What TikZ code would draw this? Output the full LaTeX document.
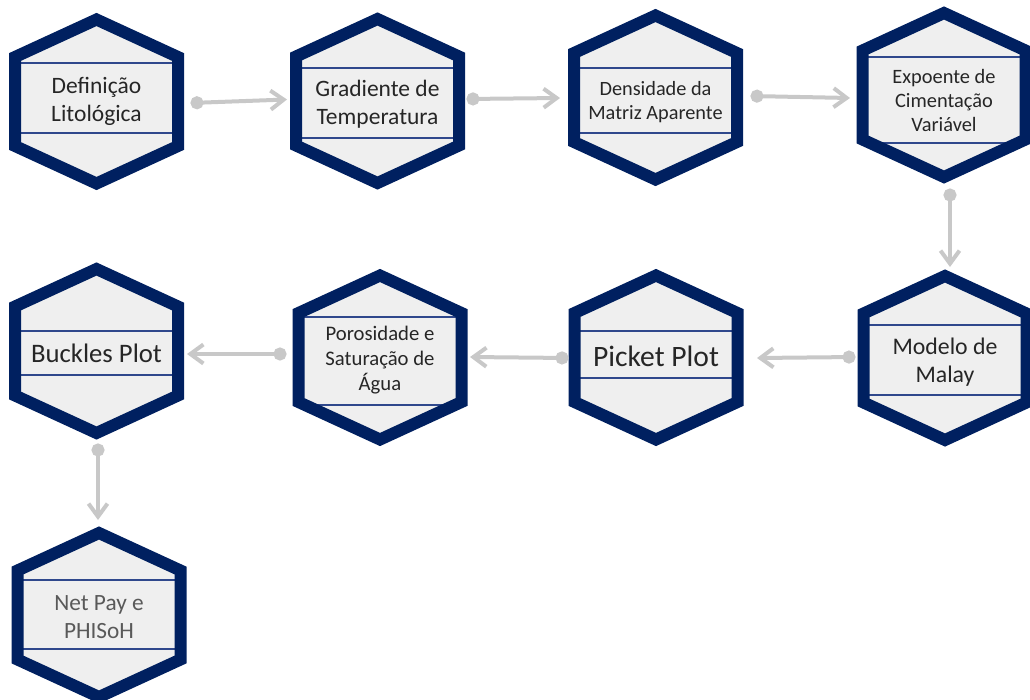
\documentclass[tikz,border=0pt]{standalone}
\usepackage{fontspec}
\setmainfont{Carlito}
\usetikzlibrary{arrows.meta,calc}

\definecolor{navy}{RGB}{0,32,96}
\definecolor{rulebl}{RGB}{47,72,140}
\definecolor{hexbg}{RGB}{239,239,239}
\definecolor{linkgray}{RGB}{200,200,200}
\definecolor{inkdark}{RGB}{38,38,38}
\definecolor{inkmid}{RGB}{89,89,89}

% outline of one step (path centre line of the thick border)
\newcommand\hexpath{(0,-82) -- (81.5,-44.5) -- (81.5,44.5) -- (0,82) -- (-81.5,44.5) -- (-81.5,-44.5) -- cycle}

\tikzset{
  hexanchor/.style={inner sep=0pt, minimum width=175pt, minimum height=177pt},
  hexfill/.style={fill=hexbg},
  hexborder/.style={draw=navy, line width=12pt, line join=miter},
  hexrule/.style={draw=rulebl, line width=1.3pt},
  hextext/.style={align=center, inner sep=0pt, text=inkdark},
  link/.style={draw=linkgray, line width=4pt,
    {Circle[length=13pt]}-{Straight Barb[length=13pt,width=19pt,line width=4pt]}}
}

% #1 name, #2 cx, #3 cy, #4 upper rule, #5 lower rule, #6 text y, #7 font size, #8 text
\newcommand\hexstep[8]{%
  \node[hexanchor] (#1) at (#2,#3) {};
  \begin{scope}[shift={(#1.center)}]
    \fill[hexfill] \hexpath;
    \begin{scope}
      \clip \hexpath;
      \draw[hexrule] (-95,#4) -- (95,#4);
      \draw[hexrule] (-95,#5) -- (95,#5);
    \end{scope}
    \draw[hexborder] \hexpath;
  \end{scope}
  \node[hextext, font=\fontsize{#7}{\fpeval{1.2*#7}}\selectfont] (#1-t) at (#2,#6) {#8};
}

\begin{document}
\begin{tikzpicture}[x=1pt, y=-1pt]
  \useasboundingbox (0,0) rectangle (1030,699);

  % first row
  \hexstep{h1}{96.5}{101.5}{-38.5}{31.5}{101.5}{23.5}{Definição\\Litológica}
  \hexstep{h2}{377.5}{101}{-33}{37}{104}{23.5}{Gradiente de\\Temperatura}
  \hexstep{h3}{655.5}{97.5}{-29.5}{35.5}{102}{20.3}{Densidade da\\Matriz Aparente}
  \hexstep{h4}{944}{95}{-38}{48}{100.5}{20.4}{Expoente de\\Cimentação\\Variável}

  % second row
  \hexstep{h5}{945}{358}{-33}{37}{362}{23.8}{Modelo de\\Malay}
  \hexstep{h6}{656}{357.5}{-26.5}{20.5}{356}{29.6}{Picket Plot}
  \hexstep{h7}{380}{357.5}{-40.5}{47.5}{360}{20.7}{Porosidade e\\Saturação de\\Água}
  \hexstep{h8}{96.5}{351}{-20}{24}{353}{26.7}{Buckles Plot}

  % last step
  \hexstep{h9}{99}{615}{-35}{34}{617}{23.3}{\color{inkmid}Net Pay e\\\color{inkmid}PHISoH}

  % connectors
  \draw[link] ($(h1.center)+(94,1.5)$) -- ($(h2.center)+(-90.5,-1.5)$);
  \draw[link] ($(h2.center)+(89,-2)$) -- ($(h3.center)+(-95.5,0.5)$);
  \draw[link] ($(h3.center)+(95,-1.5)$) -- ($(h4.center)+(-94,3)$);
  \draw[link] ($(h4.center)+(6,93.5)$) -- ($(h5.center)+(5,-91)$);
  \draw[link] ($(h5.center)+(-89.5,-1)$) -- ($(h6.center)+(101,0.5)$);
  \draw[link] ($(h6.center)+(-87.5,0.5)$) -- ($(h7.center)+(90,-0.5)$);
  \draw[link] ($(h7.center)+(-93.5,-3.5)$) -- ($(h8.center)+(90.5,3)$);
  \draw[link] ($(h8.center)+(1.5,92.5)$) -- ($(h9.center)+(-1,-95)$);
\end{tikzpicture}
\end{document}
